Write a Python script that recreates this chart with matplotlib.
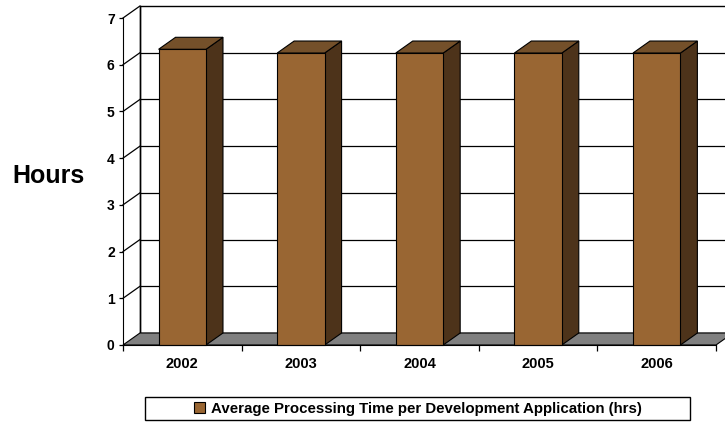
import matplotlib
matplotlib.use("Agg")
import matplotlib.pyplot as plt
from matplotlib.patches import Polygon, Rectangle, Patch

years = ["2002", "2003", "2004", "2005", "2006"]
avg_hours = [6.33, 6.25, 6.25, 6.25, 6.25]
y_ticks = [0, 1, 2, 3, 4, 5, 6, 7]
series_name = "Average Processing Time per Development Application (hrs)"

front_col = "#996633"
top_col = "#74502a"
side_col = "#4d331a"
floor_col = "#808080"

plt.rcParams["font.family"] = ["Liberation Sans", "DejaVu Sans"]
plt.rcParams["font.weight"] = "bold"

fig = plt.figure(figsize=(7.25, 4.22), dpi=100)
ax = fig.add_axes([123 / 725, 1 - 345 / 422, 593 / 725, 327 / 422])

n = len(years)
ymax = 7
# 3d depth offset in data units
dx = 0.143
dy = 0.257

ax.set_xlim(0, n)
ax.set_ylim(0, ymax)

# back wall
ax.add_patch(Rectangle((dx, dy), n, ymax, facecolor="white", edgecolor="black",
                       lw=1, clip_on=False, zorder=1))
for v in y_ticks[1:-1]:
    ax.plot([dx, n + dx], [v + dy, v + dy], color="black", lw=0.9,
            clip_on=False, zorder=2)
# side wall diagonals
for v in y_ticks[1:]:
    ax.plot([0, dx], [v, v + dy], color="black", lw=0.9, clip_on=False, zorder=2)
ax.plot([dx, dx], [dy, ymax + dy], color="black", lw=1, clip_on=False, zorder=2)

# floor
ax.add_patch(Polygon([(0, 0), (n, 0), (n + dx, dy), (dx, dy)], closed=True,
                     facecolor=floor_col, edgecolor="black", lw=0.8,
                     clip_on=False, zorder=3))

# bars
w = 0.4
for i, v in enumerate(avg_hours):
    x0 = i + 0.5 - w / 2
    x1 = i + 0.5 + w / 2
    ax.add_patch(Polygon([(x1, 0), (x1 + dx, dy), (x1 + dx, v + dy), (x1, v)],
                         closed=True, facecolor=side_col, edgecolor="black",
                         lw=0.8, clip_on=False, zorder=4))
    ax.add_patch(Polygon([(x0, v), (x1, v), (x1 + dx, v + dy), (x0 + dx, v + dy)],
                         closed=True, facecolor=top_col, edgecolor="black",
                         lw=0.8, clip_on=False, zorder=4))
    ax.bar(i + 0.5, v, width=w, color=front_col, edgecolor="black", lw=0.8,
           zorder=5, clip_on=False)

ax.patch.set_visible(False)
for s in ["top", "right"]:
    ax.spines[s].set_visible(False)
ax.spines["left"].set_zorder(6)
ax.spines["bottom"].set_zorder(6)

ax.set_yticks(y_ticks)
ax.tick_params(axis="y", length=3, width=0.9, pad=3, labelsize=10)
ax.set_xticks(range(n + 1))
ax.set_xticklabels([])
ax.tick_params(axis="x", which="major", length=4, width=0.9)
ax.set_xticks([i + 0.5 for i in range(n)], minor=True)
ax.set_xticklabels(years, minor=True)
ax.tick_params(axis="x", which="minor", length=0, pad=9, labelsize=10.5)

fig.text(48 / 725, 1 - 176 / 422, "Hours", ha="center", va="center",
         fontsize=18, fontweight="bold")

# legend
fig.patches.append(Rectangle((145 / 725, 1 - 420 / 422), 545 / 725, 23 / 422,
                             transform=fig.transFigure, facecolor="white",
                             edgecolor="black", lw=1))
fig.legend(handles=[Patch(facecolor=front_col, edgecolor="black", lw=0.8,
                          label=series_name)],
           loc="center", bbox_to_anchor=(418 / 725, 1 - 408.5 / 422),
           frameon=False, fontsize=10.8, handlelength=0.7, handleheight=0.7,
           handletextpad=0.4, borderpad=0)

fig.savefig("out.png", dpi=100)
